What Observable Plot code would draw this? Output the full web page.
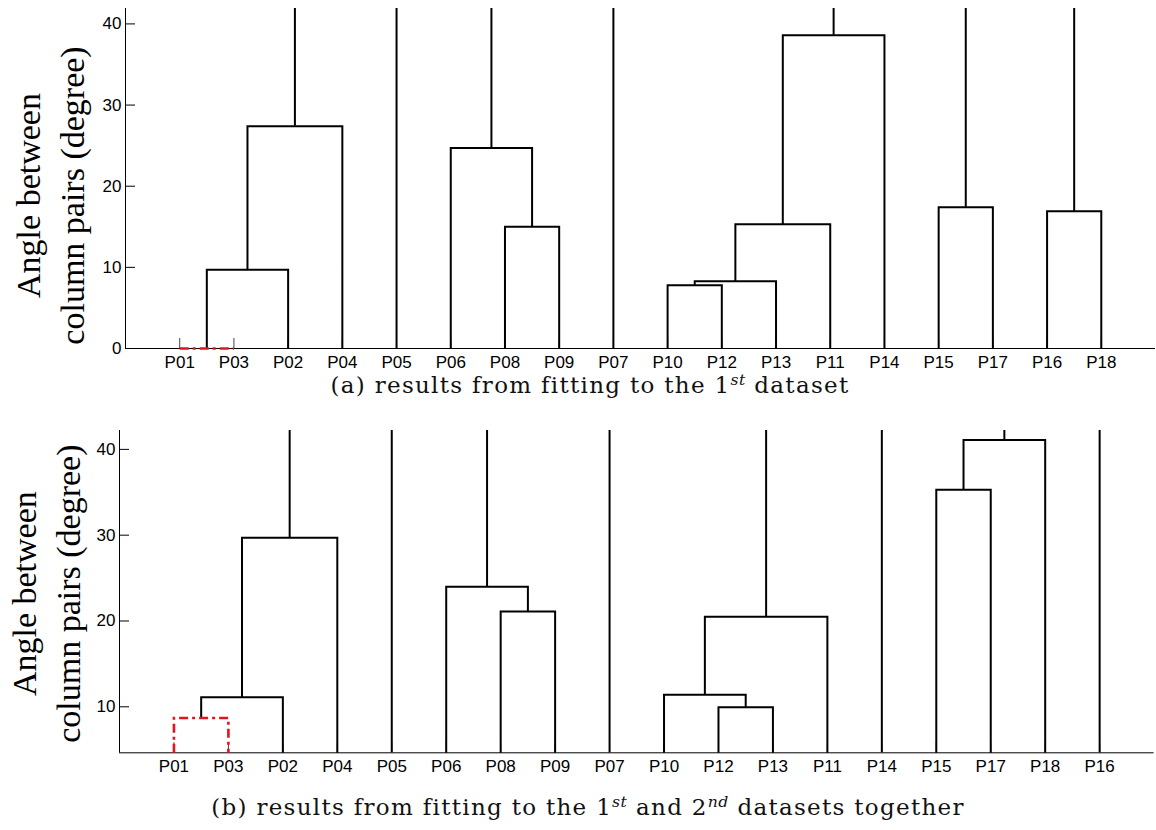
<!DOCTYPE html>
<html>
<head>
<meta charset="utf-8">
<script src="https://cdn.jsdelivr.net/npm/d3@7"></script>
<script src="https://cdn.jsdelivr.net/npm/@observablehq/plot@0.6"></script>
<style>
  html, body { margin: 0; padding: 0; background: #fff; }
  #root { position: relative; width: 1156px; height: 830px; background: #fff; overflow: hidden; }
  .panel { position: absolute; left: 0; }
  .cap {
    position: absolute; width: 1000px; height: 24px; line-height: 24px;
    text-align: center; white-space: nowrap;
    font-family: "DejaVu Serif", "Liberation Serif", serif; font-size: 23px; letter-spacing: 1.3px; color: #111;
  }
  .cap sup { font-size: 68%; font-style: italic; vertical-align: 0.5em; line-height: 0; letter-spacing: 0.5px; }
</style>
</head>
<body>
<div id="root">
  <div id="panelA" class="panel" style="top:0px"></div>
  <div class="cap" style="left:90px; top:373px">(a) results from fitting to the 1<sup>st</sup> dataset</div>
  <div id="panelB" class="panel" style="top:420px"></div>
  <div class="cap" style="left:88px; top:795px">(b) results from fitting to the 1<sup>st</sup> and 2<sup>nd</sup> datasets together</div>
</div>
<script>
// Leaf order along the x axis, one list per dendrogram
const leavesA = ["P01","P03","P02","P04","P05","P06","P08","P09","P07","P10","P12","P13","P11","P14","P15","P17","P16","P18"];
const leavesB = ["P01","P03","P02","P04","P05","P06","P08","P09","P07","P10","P12","P13","P11","P14","P15","P17","P18","P16"];

// Merges as [left, right, angle in degrees]; "#k" refers to the k-th merge of the list
const mergesA = [
  ["P01", "P03", 0],
  ["#0", "P02", 9.7],
  ["#1", "P04", 27.4],
  ["P08", "P09", 15.0],
  ["P06", "#3", 24.7],
  ["P10", "P12", 7.8],
  ["#5", "P13", 8.3],
  ["#6", "P11", 15.3],
  ["#7", "P14", 38.6],
  ["P15", "P17", 17.4],
  ["P16", "P18", 16.9]
];
const mergesB = [
  ["P01", "P03", 8.7],
  ["#0", "P02", 11.1],
  ["#1", "P04", 29.7],
  ["P08", "P09", 21.1],
  ["P06", "#3", 24.0],
  ["P12", "P13", 9.95],
  ["P10", "#5", 11.4],
  ["#6", "P11", 20.5],
  ["P15", "P17", 35.3],
  ["#8", "P18", 41.1]
];

// Merges drawn with the red dash-dot style
const highlightA = [0];
const highlightB = [0];

// Visible angle range and axis ticks of each panel
const yDomainA = [0, 41.9];
const yDomainB = [4.64, 42.2];
const yTicksA = [0, 10, 20, 30, 40];
const yTicksB = [10, 20, 30, 40];

const yLabel = "Angle between\ncolumn pairs (degree)";

// Turn the merge list into U-shaped links; clusters that are never merged
// inside the visible range continue up to the top of the frame.
function dendrogram(leaves, merges, floor, ceiling) {
  const pos = new Map(leaves.map((name, i) => [name, {x: i + 1, h: floor}]));
  const used = new Set();
  const links = [];
  merges.forEach(([l, r, h], k) => {
    const a = pos.get(l), b = pos.get(r);
    used.add(l); used.add(r);
    links.push({k, x: a.x, y: a.h}, {k, x: a.x, y: h}, {k, x: b.x, y: h}, {k, x: b.x, y: b.h});
    pos.set("#" + k, {x: (a.x + b.x) / 2, h});
  });
  const roots = [];
  for (const [id, p] of pos) if (!used.has(id)) roots.push({x: p.x, y1: p.h, y2: ceiling});
  return {links, roots};
}

function panel({leaves, merges, highlight, yDomain, yTicks, height, marginLeft, marginRight, marginTop, marginBottom, labelDx, labelDy}) {
  const {links, roots} = dendrogram(leaves, merges, yDomain[0], yDomain[1]);
  const hi = new Set(highlight);
  const line = {x: "x", y: "y", z: "k", strokeWidth: 2, strokeLinejoin: "miter", strokeLinecap: "butt", strokeMiterlimit: 4};
  return Plot.plot({
    width: 1156,
    height,
    marginLeft, marginRight, marginTop, marginBottom,
    x: {domain: [0, leaves.length + 1]},
    y: {domain: yDomain},
    style: {fontFamily: "'Liberation Sans', Arial, sans-serif", fontSize: "17px", color: "#000", background: "#fff", overflow: "visible"},
    marks: [
      Plot.axisX(leaves.map((d, i) => i + 1), {tickSize: -10, tickPadding: 17, tickFormat: (v) => leaves[v - 1], label: null, stroke: "#444"}),
      Plot.axisY(yTicks, {tickSize: -10, tickPadding: 14, label: null}),
      Plot.ruleX([0], {stroke: "#000", strokeWidth: 1}),
      Plot.ruleY([yDomain[0]], {stroke: "#000", strokeWidth: 1}),
      Plot.line(links.filter((d) => !hi.has(d.k)), {...line, stroke: "#000"}),
      Plot.ruleX(roots, {x: "x", y1: "y1", y2: "y2", stroke: "#000", strokeWidth: 2}),
      Plot.line(links.filter((d) => hi.has(d.k)), {...line, stroke: "#e3141b", strokeWidth: 2.6, strokeDasharray: "9,4,3,4"}),
      Plot.text([yLabel], {
        text: (d) => d, frameAnchor: "left", rotate: -90, dx: labelDx, dy: labelDy,
        textAnchor: "middle", lineAnchor: "middle",
        fontFamily: "'Liberation Serif', 'Times New Roman', serif", fontSize: 34, lineHeight: 1.3,
        fill: "#000"
      })
    ]
  });
}

document.getElementById("panelA").append(panel({
  leaves: leavesA, merges: mergesA, highlight: highlightA, yDomain: yDomainA, yTicks: yTicksA,
  height: 372, marginLeft: 125, marginRight: 1, marginTop: 8, marginBottom: 24, labelDx: -78, labelDy: 17
}));
document.getElementById("panelB").append(panel({
  leaves: leavesB, merges: mergesB, highlight: highlightB, yDomain: yDomainB, yTicks: yTicksB,
  height: 360, marginLeft: 119, marginRight: 2.4, marginTop: 10, marginBottom: 27.7, labelDx: -76, labelDy: 2
}));
</script>
</body>
</html>
